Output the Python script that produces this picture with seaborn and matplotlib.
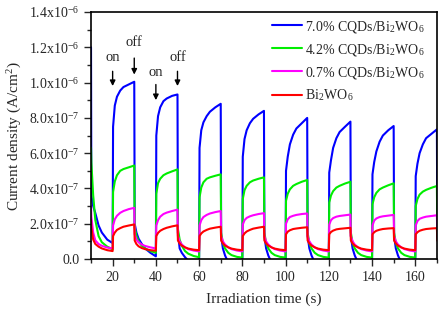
import pandas as pd
import seaborn as sns
import matplotlib.pyplot as plt
from matplotlib.ticker import MultipleLocator, FixedLocator

# ---- data (current density in units of 1e-7 A/cm2) ----
labels = ['7.0% CQDs/Bi$_\\mathregular{2}$WO$_\\mathregular{6}$',
          '4.2% CQDs/Bi$_\\mathregular{2}$WO$_\\mathregular{6}$',
          '0.7% CQDs/Bi$_\\mathregular{2}$WO$_\\mathregular{6}$',
          'Bi$_\\mathregular{2}$WO$_\\mathregular{6}$']
colors = ['#0000ff', '#00ee00', '#ff00ff', '#ff0000']

# sample times: initial dark decay, then on/off cycles of 10 s each
t_start = [10, 10.15, 11, 12, 13.5, 15, 17.5, 20]
on_times = [20, 40, 60, 80, 100, 120, 140, 160]
on_offsets = [0.2, 1, 2, 3.5, 5, 7.5, 10]
off_offsets = [10.2, 11, 12, 13.5, 15, 17.5, 20]

blue_start = [12.0, 3.6, 3.0, 2.6, 1.9, 1.5, 1.1, 0.9]
blue_on = [[7.5, 8.7, 9.2, 9.55, 9.75, 9.9, 10.05],
           [7.0, 8.1, 8.6, 8.95, 9.1, 9.25, 9.33],
           [6.3, 7.3, 7.75, 8.1, 8.35, 8.6, 8.8],
           [5.8, 6.8, 7.3, 7.7, 7.95, 8.2, 8.4],
           [5.0, 5.8, 6.5, 7.05, 7.4, 7.7, 8.0],
           [4.9, 5.6, 6.3, 6.85, 7.2, 7.5, 7.79],
           [4.8, 5.5, 6.1, 6.65, 7.0, 7.3, 7.54],
           [4.7, 5.4, 6.0, 6.5, 6.85, 7.1, 7.35]]
blue_off = [[2.0, 1.5, 1.15, 0.85, 0.6, 0.35, 0.15],
            [1.5, 0.6, 0.35, 0.1, -0.1, -0.3, -0.4],
            [1.3, 0.6, 0.2, -0.2, -0.4, -0.5, -0.5],
            [1.3, 0.6, 0.2, -0.2, -0.4, -0.5, -0.5],
            [1.3, 0.6, 0.2, -0.2, -0.4, -0.5, -0.5],
            [1.3, 0.6, 0.2, -0.2, -0.4, -0.5, -0.5],
            [1.3, 0.6, 0.2, -0.2, -0.4, -0.5, -0.5],
            [1.3, 0.6, 0.2, -0.2, -0.4, -0.5, -0.5]]

green_start = [6.3, 5.5, 3.6, 2.2, 1.3, 0.95, 0.7, 0.55]
green_on = [[3.8, 4.4, 4.75, 5.0, 5.1, 5.2, 5.3],
            [3.7, 4.3, 4.55, 4.75, 4.85, 4.97, 5.08],
            [3.5, 4.05, 4.35, 4.55, 4.63, 4.72, 4.8],
            [3.4, 3.9, 4.15, 4.35, 4.45, 4.55, 4.63],
            [3.3, 3.7, 3.95, 4.15, 4.25, 4.38, 4.48],
            [3.2, 3.6, 3.85, 4.05, 4.15, 4.28, 4.38],
            [3.1, 3.5, 3.75, 3.95, 4.05, 4.18, 4.29],
            [3.0, 3.4, 3.65, 3.82, 3.92, 4.04, 4.14]]
green_off = [[1.8, 1.3, 1.0, 0.75, 0.6, 0.45, 0.35],
             [1.7, 1.1, 0.75, 0.45, 0.3, 0.17, 0.1],
             [1.5, 0.9, 0.6, 0.35, 0.22, 0.12, 0.08],
             [1.5, 0.9, 0.6, 0.35, 0.22, 0.12, 0.08],
             [1.5, 0.9, 0.6, 0.35, 0.22, 0.12, 0.08],
             [1.5, 0.9, 0.6, 0.35, 0.22, 0.12, 0.08],
             [1.5, 0.9, 0.6, 0.35, 0.22, 0.12, 0.08],
             [1.5, 0.9, 0.6, 0.35, 0.22, 0.12, 0.08]]

magenta_start = [3.0, 2.4, 1.5, 1.05, 0.85, 0.75, 0.65, 0.6]
magenta_on = [[1.9, 2.25, 2.45, 2.62, 2.72, 2.83, 2.9],
              [1.9, 2.2, 2.4, 2.55, 2.63, 2.72, 2.8],
              [1.9, 2.2, 2.38, 2.5, 2.58, 2.66, 2.72],
              [1.95, 2.2, 2.33, 2.42, 2.48, 2.55, 2.6],
              [2.0, 2.25, 2.38, 2.45, 2.5, 2.55, 2.58],
              [1.95, 2.2, 2.32, 2.4, 2.44, 2.48, 2.52],
              [1.9, 2.18, 2.3, 2.38, 2.42, 2.46, 2.5],
              [1.9, 2.15, 2.28, 2.35, 2.4, 2.44, 2.48]]
magenta_off = [[1.4, 1.1, 0.95, 0.82, 0.74, 0.66, 0.6],
               [1.3, 1.0, 0.82, 0.66, 0.56, 0.48, 0.43],
               [1.3, 1.0, 0.82, 0.66, 0.56, 0.48, 0.43],
               [1.3, 1.0, 0.82, 0.66, 0.56, 0.48, 0.43],
               [1.3, 1.0, 0.82, 0.66, 0.56, 0.48, 0.43],
               [1.3, 1.0, 0.82, 0.66, 0.56, 0.48, 0.43],
               [1.3, 1.0, 0.82, 0.66, 0.56, 0.48, 0.43],
               [1.3, 1.0, 0.82, 0.66, 0.56, 0.48, 0.43]]

red_start = [2.2, 1.8, 1.1, 0.85, 0.7, 0.6, 0.5, 0.45]
red_on = [[1.3, 1.5, 1.65, 1.75, 1.83, 1.9, 1.96],
          [1.3, 1.48, 1.6, 1.7, 1.77, 1.85, 1.91],
          [1.3, 1.45, 1.56, 1.65, 1.72, 1.78, 1.83],
          [1.3, 1.45, 1.56, 1.65, 1.72, 1.78, 1.83],
          [1.4, 1.55, 1.63, 1.7, 1.73, 1.77, 1.8],
          [1.4, 1.53, 1.61, 1.68, 1.71, 1.74, 1.77],
          [1.4, 1.52, 1.6, 1.66, 1.7, 1.73, 1.75],
          [1.4, 1.52, 1.6, 1.66, 1.7, 1.73, 1.75]]
red_off = [[1.05, 0.85, 0.72, 0.62, 0.56, 0.5, 0.47],
           [1.05, 0.88, 0.76, 0.66, 0.59, 0.53, 0.5],
           [1.05, 0.88, 0.76, 0.66, 0.59, 0.53, 0.5],
           [1.05, 0.88, 0.76, 0.66, 0.59, 0.53, 0.5],
           [1.05, 0.88, 0.76, 0.66, 0.59, 0.53, 0.5],
           [1.05, 0.88, 0.76, 0.66, 0.59, 0.53, 0.5],
           [1.05, 0.88, 0.76, 0.66, 0.59, 0.53, 0.5],
           [1.05, 0.88, 0.76, 0.66, 0.59, 0.53, 0.5]]

ytick_values = [0, 2e-7, 4e-7, 6e-7, 8e-7, 1e-6, 1.2e-6, 1.4e-6]
ytick_labels = ['0.0'] + [m + 'x10$^{\\mathregular{' + e + '}}$' for m, e in
                          [('2.0', '-7'), ('4.0', '-7'), ('6.0', '-7'), ('8.0', '-7'),
                           ('1.0', '-6'), ('1.2', '-6'), ('1.4', '-6')]]

series = [(blue_start, blue_on, blue_off), (green_start, green_on, green_off),
          (magenta_start, magenta_on, magenta_off), (red_start, red_on, red_off)]

rows = []
for label, (start, on, off) in zip(labels, series):
    for t, v in zip(t_start, start):
        rows.append((label, t, v * 1e-7))
    for T, von, voff in zip(on_times, on, off):
        for o, v in zip(on_offsets, von):
            rows.append((label, T + o, v * 1e-7))
        for o, v in zip(off_offsets, voff):
            rows.append((label, T + o, v * 1e-7))
df = pd.DataFrame(rows, columns=['sample', 'time', 'j'])

# ---- plot ----
sns.set_style('ticks')
plt.rcParams['font.family'] = ['Liberation Serif', 'DejaVu Serif']
plt.rcParams['mathtext.fontset'] = 'stix'

fig = plt.figure(figsize=(4.44, 3.10), dpi=100)
ax = fig.add_axes([0.205, 0.1645, 0.779, 0.7965])

sns.lineplot(data=df, x='time', y='j', hue='sample', hue_order=labels,
             palette=colors, estimator=None, sort=False, linewidth=1.5, ax=ax)

ax.set_xlim(10, 170)
ax.set_ylim(0, 1.4e-6)
ax.xaxis.set_major_locator(FixedLocator([20, 40, 60, 80, 100, 120, 140, 160]))
ax.xaxis.set_minor_locator(MultipleLocator(10))
ax.yaxis.set_major_locator(FixedLocator(ytick_values))
ax.set_yticklabels(ytick_labels)
ax.yaxis.set_minor_locator(MultipleLocator(1e-7))
ax.tick_params(which='major', direction='out', length=5, width=1, labelsize=10,
               top=False, right=False)
ax.tick_params(which='minor', direction='out', length=3, width=1, top=False, right=False)
for s in ax.spines.values():
    s.set_linewidth(1.2)
    s.set_color('black')

ax.set_xlabel('Irradiation time (s)', fontsize=11, labelpad=6)
ax.set_ylabel('Current density (A/cm$^{\\mathregular{2}}$)', fontsize=11)

# on / off markers
for txt, x, ytxt, ytop, ybot in [('on', 20, 11.45, 10.8, 9.65), ('off', 30, 12.25, 11.55, 10.3),
                                  ('on', 40, 10.6, 10.05, 8.85), ('off', 50, 11.45, 10.8, 9.65)]:
    ax.text(x, ytxt * 1e-7, txt, ha='center', va='center', fontsize=10.5)
    ax.annotate('', xy=(x, ybot * 1e-7), xytext=(x, ytop * 1e-7),
                arrowprops=dict(arrowstyle='-|>', color='black', lw=1, mutation_scale=8))

ax.legend(loc='upper right', bbox_to_anchor=(0.975, 0.99), frameon=False, fontsize=10,
          handlelength=2.2, handletextpad=0.15, labelspacing=0.5, borderaxespad=0,
          borderpad=0.3)

fig.savefig('out.png', dpi=100)
